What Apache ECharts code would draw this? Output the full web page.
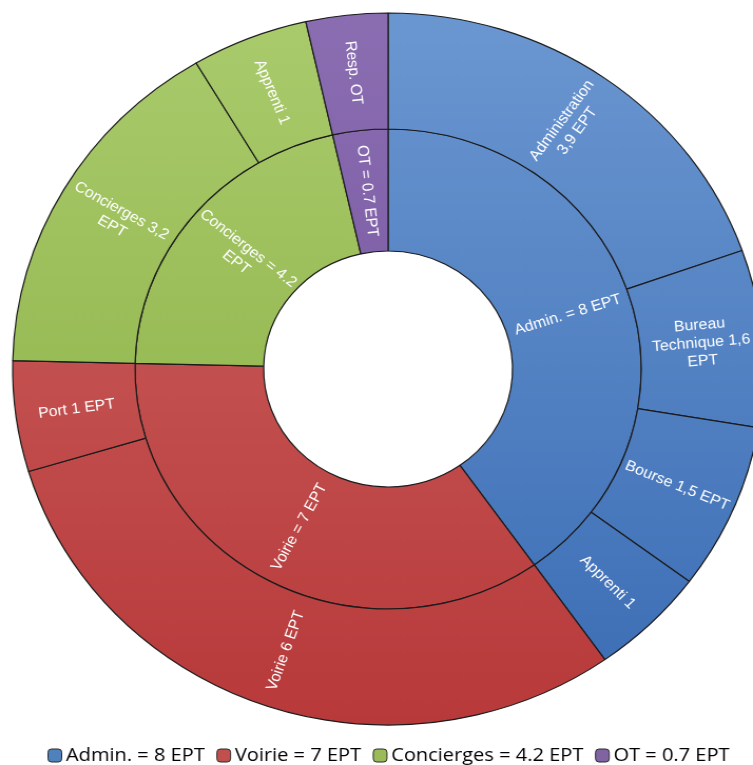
<!DOCTYPE html>
<html>
<head>
<meta charset="utf-8">
<script src="https://cdn.jsdelivr.net/npm/echarts@6/dist/echarts.min.js"></script>
<style>
  html, body { margin: 0; padding: 0; background: #ffffff; overflow: hidden; }
  #wrap { width: 753px; height: 765px; overflow: hidden; position: relative; }
  #chart { width: 714px; height: 765px; transform: scaleX(1.0546); transform-origin: 0 0; }
</style>
</head>
<body>
<div id="wrap"><div id="chart"></div></div>
<script>
// ---- data ----
const groupNames = ['Admin. = 8 EPT', 'Voirie = 7 EPT', 'Concierges = 4.2 EPT', 'OT = 0.7 EPT'];
const groupValues = [8, 7, 4.2, 0.7];
const groupLabels = ['Admin. = 8 EPT', 'Voirie = 7 EPT', 'Concierges = 4.2\nEPT', 'OT = 0.7 EPT'];

const adminNames = ['Administration', 'Bureau Technique', 'Bourse', 'Apprenti'];
const adminValues = [3.9, 1.6, 1.5, 1];
const adminLabels = ['Administration\n3,9 EPT', 'Bureau\nTechnique 1,6\nEPT', 'Bourse 1,5 EPT', 'Apprenti 1'];

const voirieNames = ['Voirie', 'Port'];
const voirieValues = [6, 1];
const voirieLabels = ['Voirie 6 EPT', 'Port 1 EPT'];

const conciergesNames = ['Concierges', 'Apprenti'];
const conciergesValues = [3.2, 1];
const conciergesLabels = ['Concierges 3,2\nEPT', 'Apprenti 1'];

const otNames = ['Resp. OT'];
const otValues = [0.7];
const otLabels = ['Resp. OT'];

// ---- styling ----
const palette = [
  ['#6b97d1', '#3a6cb4'],
  ['#cd6664', '#b8393a'],
  ['#aacb6c', '#86ac40'],
  ['#8b6db2', '#6f4f98']
];
const solid = ['#4f81bd', '#c0504d', '#9bbb59', '#8064a2'];

function grad(i) {
  return new echarts.graphic.LinearGradient(0, 12, 0, 726, [
    { offset: 0, color: palette[i][0] },
    { offset: 1, color: palette[i][1] }
  ], true);
}

const childSets = [
  [adminNames, adminValues, adminLabels],
  [voirieNames, voirieValues, voirieLabels],
  [conciergesNames, conciergesValues, conciergesLabels],
  [otNames, otValues, otLabels]
];

const sunData = groupNames.map((g, i) => ({
  name: g,
  value: groupValues[i],
  itemStyle: { color: grad(i) },
  label: { formatter: groupLabels[i] },
  children: childSets[i][0].map((n, j) => ({
    name: n,
    value: childSets[i][1][j],
    itemStyle: { color: grad(i) },
    label: { formatter: childSets[i][2][j] }
  }))
}));

const chart = echarts.init(document.getElementById('chart'), null, { renderer: 'canvas' });
chart.setOption({
  animation: false,
  legend: {
    left: 40,
    top: 741,
    itemWidth: 13,
    itemHeight: 13,
    itemGap: 11,
    icon: 'roundRect',
    selectedMode: false,
    textStyle: { fontFamily: 'Open Sans', fontSize: 19, color: '#000000', padding: [0, 0, 0, -1] },
    data: groupNames.map((g, i) => ({
      name: g,
      itemStyle: { color: solid[i], borderColor: '#2a2a2a', borderWidth: 1 }
    }))
  },
  series: [
    {
      type: 'sunburst',
      center: [368, 369],
      radius: [118, 356],
      sort: null,
      startAngle: 90,
      clockwise: true,
      nodeClick: false,
      emphasis: { disabled: true },
      itemStyle: { borderColor: '#1b1b1b', borderWidth: 1.2 },
      label: {
        rotate: 'radial',
        color: '#ffffff',
        fontFamily: 'Liberation Sans',
        fontSize: 15,
        lineHeight: 18,
        align: 'center'
      },
      levels: [
        {},
        { r0: 118, r: 240 },
        { r0: 240, r: 356 }
      ],
      data: sunData
    },
    {
      type: 'pie',
      silent: true,
      radius: [0, 0],
      center: [-100, -100],
      label: { show: false },
      labelLine: { show: false },
      data: groupNames.map((g, i) => ({ name: g, value: groupValues[i], itemStyle: { color: solid[i] } }))
    }
  ]
});
</script>
</body>
</html>
